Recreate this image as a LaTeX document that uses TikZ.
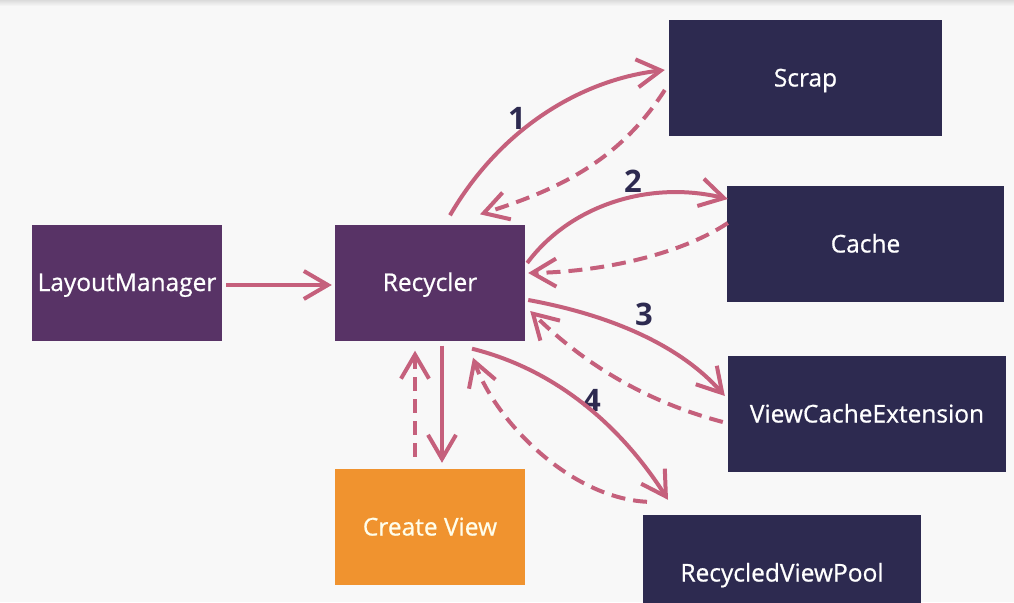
\documentclass[tikz,border=0pt]{standalone}
\usepackage{fontspec}
\setmainfont{Open Sans}
\newfontfamily\boxfont{Open Sans}[FakeBold=0.7]
\usetikzlibrary{arrows.meta,calc}
\definecolor{bgcol}{HTML}{F8F8F8}
\definecolor{plum}{HTML}{583366}
\definecolor{navy}{HTML}{2D2A50}
\definecolor{amber}{HTML}{F0932F}
\definecolor{rose}{HTML}{C5607C}

\begin{document}
\begin{tikzpicture}[
  x=1pt, y=-1pt,
  >={Straight Barb[length=24pt,width=28pt]},
  box/.style={inner sep=0pt, minimum height=116pt, align=center,
              text height=17pt, text depth=0pt,
              text=white, font=\boxfont\fontsize{24.5}{28}\selectfont},
  mgr/.style={box, fill=plum, minimum width=190pt},
  src/.style={box, fill=navy, minimum width=277pt},
  mk/.style={box, fill=amber, minimum width=190pt, text=yellow!8},
  arr/.style={->, rose, line width=4pt},
  back/.style={arr, dash pattern=on 14pt off 8pt},
  num/.style={text=navy, font=\fontsize{31}{34}\selectfont\bfseries},
]
  \useasboundingbox (0,0) rectangle (1014,602);
  \clip (0,0) rectangle (1014,602);
  \fill[bgcol] (0,0) rectangle (1014,602);
  \shade[top color=black!14, bottom color=bgcol] (0,0) rectangle (1014,6);

  \node[mgr] (lm)    at (127,282.5) {LayoutManager};
  \node[mgr] (rec)   at (430,282.5) {Recycler};
  \node[mk]  (cv)    at (430,527)   {Create View};
  \node[src, minimum width=273pt] (scrap) at (805.5,78) {Scrap};
  \node[src] (cache) at (865.5,244) {Cache};
  \node[src, minimum width=278pt] (vce)   at (867,414)   {ViewCacheExtension};
  \node[src, minimum width=278pt] (pool)  at (782,573)   {RecycledViewPool};

  \node[num] (n1) at (517,118) {1};
  \node[num] (n2) at (633,181) {2};
  \node[num] (n3) at (644,314) {3};
  \node[num] (n4) at (592,400) {4};

  \draw[arr] ($(lm.east)+(4,2.5)$) -- ($(rec.west)+(-3,2.5)$);
  \draw[arr] ($(rec.north)+(20,-9)$) .. controls +(50,-86) and +(-85,10) .. ($(scrap.west)+(-4,-8)$);
  \draw[back] ($(scrap.west)+(-4,12)$) .. controls +(-45,70) and +(80,-25) .. ($(rec.north)+(50,-10)$);
  \draw[arr] ($(rec.east)+(2,-19.5)$) .. controls +(43,-58) and +(-78,-19) .. ($(cache.west)+(1,-45)$);
  \draw[back] ($(cache.west)+(1,-21)$) .. controls +(-48,32) and +(72,-1) .. ($(rec.east)+(3,-9.5)$);
  \draw[arr] ($(rec.east)+(3,17.5)$) .. controls +(82,15) and +(-45,-51) .. ($(vce.west)+(-3,-18)$);
  \draw[back] ($(vce.west)+(-5,8)$) .. controls +(-83,-22) and +(50,49) .. ($(rec.east)+(5,28.5)$);
  \draw[arr] ($(rec.south)+(42,8)$) .. controls +(100,25) and +(-35,-55) .. ($(pool.north)+(-114,-15)$);
  \draw[back] ($(pool.north)+(-135,-13)$) .. controls +(-77,-4) and +(22,63) .. ($(rec.south)+(43,17)$);
  \draw[arr] ($(rec.south)+(12,5)$) -- ($(cv.north)+(12,-6)$);
  \draw[back] ($(cv.north)+(-15,-12)$) -- ($(rec.south)+(-15,10)$);
\end{tikzpicture}
\end{document}
